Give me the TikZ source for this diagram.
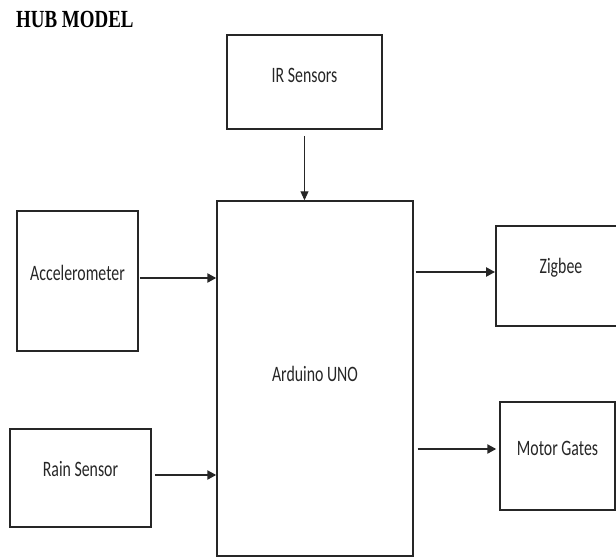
\documentclass[tikz,border=0pt]{standalone}
\usepackage{fontspec}
\usepackage{tikz}
\usetikzlibrary{arrows.meta,calc}
\newfontfamily\blklbl[FakeStretch=0.72]{Carlito}
\newfontfamily\hubttl[FakeStretch=0.77]{Liberation Serif}

\tikzset{
  blk/.style={draw=black!85, line width=1.8pt, inner sep=0pt},
  blktxt/.style={font=\blklbl\fontsize{22}{25}\selectfont, text=black!85, inner sep=0pt},
  flow/.style={-{Triangle[length=9pt,width=9pt]}, line width=2.2pt, black!85},
  thinflow/.style={-{Triangle[length=9pt,width=8pt]}, line width=0.9pt, black!85}
}

\begin{document}
\begin{tikzpicture}[x=1pt,y=-1pt]
        % Fix the page size
        \useasboundingbox (0,0) rectangle (616,559);

        % Title
        \node[anchor=base west, inner sep=0pt, font=\hubttl\bfseries\fontsize{24.6}{28}\selectfont] (title) at (16,27.5) {HUB MODEL};

        % Draw the blocks
        \node[blk, minimum width=155pt, minimum height=94pt,
              label={[blktxt, yshift=7pt]center:IR Sensors}] (ir) at (304.5,82) {};
        \node[blk, line width=1.4pt, minimum width=196pt, minimum height=355pt,
              label={[blktxt, yshift=5pt]center:Arduino UNO}] (ard) at (315,378.5) {};
        \node[blk, minimum width=121pt, minimum height=140pt,
              label={[blktxt, yshift=8pt]center:Accelerometer}] (acc) at (77.5,281) {};
        \node[blk, minimum width=141pt, minimum height=98pt,
              label={[blktxt, yshift=9pt]center:Rain Sensor}] (rain) at (80.5,478) {};
        \node[blk, minimum width=126pt, minimum height=100pt,
              label={[blktxt, xshift=2pt, yshift=8pt]center:Zigbee}] (zig) at (559,276) {};
        \node[blk, line width=1.4pt, minimum width=115pt, minimum height=108pt,
              label={[blktxt, yshift=8pt]center:Motor Gates}] (mot) at (557.5,456) {};

        % Draw the arrows into the Arduino
        \draw[thinflow, shorten <=6pt] (ir.south) -- (ir.south |- ard.north);
        \draw[flow, shorten <=1pt] ($(acc.east)+(0,-3)$) -- ($(acc.east -| ard.west)+(0,-3)$);
        \draw[flow, shorten <=3pt] ($(rain.east)+(0,-3)$) -- ($(rain.east -| ard.west)+(0,-3)$);

        % Draw the arrows out of the Arduino
        \draw[flow, shorten <=2pt] ($(zig.west -| ard.east)+(0,-4)$) -- ($(zig.west)+(0,-4)$);
        \draw[flow, shorten <=4pt, shorten >=3pt] ($(mot.west -| ard.east)+(0,-7)$) -- ($(mot.west)+(0,-7)$);
    \end{tikzpicture}
\end{document}
